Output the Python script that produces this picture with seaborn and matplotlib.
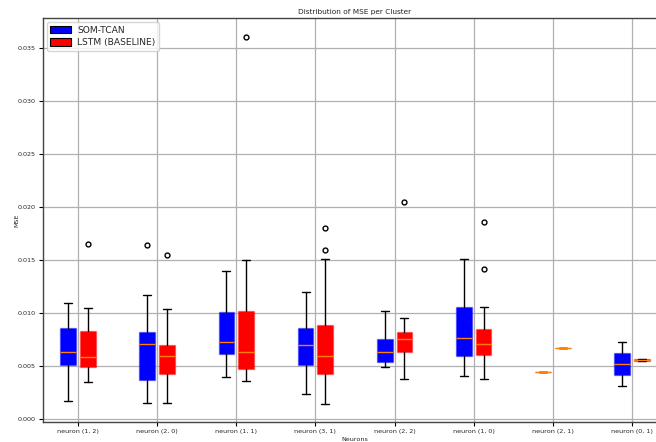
import matplotlib
matplotlib.use("Agg")
import matplotlib.pyplot as plt
import seaborn as sns
from matplotlib.patches import Patch

categories = ["neuron (1, 2)", "neuron (2, 0)", "neuron (1, 1)", "neuron (3, 1)",
              "neuron (2, 2)", "neuron (1, 0)", "neuron (2, 1)", "neuron (0, 1)"]

som_whislo = [0.00176, 0.00157, 0.00402, 0.00239, 0.00491, 0.00408, 0.00446, 0.00314]
som_q1 = [0.00515, 0.00371, 0.00619, 0.00509, 0.00538, 0.00597, 0.00446, 0.00415]
som_med = [0.00632, 0.00710, 0.00726, 0.00701, 0.00638, 0.00764, 0.00446, 0.00522]
som_q3 = [0.00858, 0.00824, 0.01010, 0.00864, 0.00755, 0.01062, 0.00446, 0.00629]
som_whishi = [0.01100, 0.01176, 0.01396, 0.01204, 0.01022, 0.01512, 0.00446, 0.00729]
som_fliers = [[], [0.01647], [], [], [], [], [], []]

lstm_whislo = [0.00355, 0.00154, 0.00364, 0.00147, 0.00380, 0.00380, 0.00675, 0.00550]
lstm_q1 = [0.00491, 0.00430, 0.00477, 0.00425, 0.00635, 0.00610, 0.00675, 0.00550]
lstm_med = [0.00585, 0.00597, 0.00635, 0.00597, 0.00755, 0.00708, 0.00675, 0.00559]
lstm_q3 = [0.00836, 0.00698, 0.01022, 0.00890, 0.00824, 0.00855, 0.00675, 0.00569]
lstm_whishi = [0.01050, 0.01038, 0.01500, 0.01512, 0.00956, 0.01057, 0.00675, 0.00569]
lstm_fliers = [[0.0165], [0.01547], [0.03607], [0.01802, 0.01597], [0.0205],
               [0.01858, 0.01421], [], []]

series_names = ["SOM-TCAN", "LSTM (BASELINE)"]
series_colors = ["blue", "red"]
edge_colors = [(0.0, 0.0, 1.0, 0.35), (1.0, 0.0, 0.0, 0.35)]

sns.set_style("ticks")
plt.rcParams['font.family'] = ['DejaVu Sans']

fig = plt.figure(figsize=(6.56, 4.42), dpi=100)
ax = fig.add_axes([43 / 656, 20 / 442, 624 / 656, 403.7 / 442])

def make_stats(lo, q1, med, q3, hi, fl):
    return [dict(whislo=a, q1=b, med=c, q3=d, whishi=e, fliers=f)
            for a, b, c, d, e, f in zip(lo, q1, med, q3, hi, fl)]

groups = [
    make_stats(som_whislo, som_q1, som_med, som_q3, som_whishi, som_fliers),
    make_stats(lstm_whislo, lstm_q1, lstm_med, lstm_q3, lstm_whishi, lstm_fliers),
]
offsets = [-0.125, 0.125]
base = list(range(1, len(categories) + 1))

for stats, off, fc, ec in zip(groups, offsets, series_colors, edge_colors):
    ax.bxp(stats, positions=[b + off for b in base], widths=0.2,
           patch_artist=True, manage_ticks=False,
           boxprops=dict(facecolor=fc, edgecolor=ec, linewidth=1.0),
           medianprops=dict(color="#ff7f0e", linewidth=1.0),
           whiskerprops=dict(color="black", linewidth=1.0),
           capprops=dict(color="black", linewidth=1.0),
           flierprops=dict(marker="o", markerfacecolor="none",
                           markeredgecolor="black", markersize=3.5,
                           markeredgewidth=1.0))

ax.set_xticks(base)
ax.set_xticklabels(categories, fontsize=4.6)
ax.set_yticks([0.0, 0.005, 0.010, 0.015, 0.020, 0.025, 0.030, 0.035])
ax.set_yticklabels(["0.000", "0.005", "0.010", "0.015", "0.020", "0.025",
                    "0.030", "0.035"], fontsize=4.6)
ax.set_xlim(0.557, 8.443)
ax.set_ylim(-0.000255, 0.03783)
ax.tick_params(axis="both", length=3, width=0.8, pad=2, color="black")
ax.grid(True, color="#b0b0b0", linewidth=0.9)
ax.set_axisbelow(True)
for s in ax.spines.values():
    s.set_color("#444444")
    s.set_linewidth(1.0)

ax.set_title("Distribution of MSE per Cluster", fontsize=5.3, pad=3)
ax.set_xlabel("Neurons", fontsize=4.6, labelpad=2)
ax.set_ylabel("MSE", fontsize=4.6, labelpad=-1)

handles = [Patch(facecolor=c, edgecolor="black", linewidth=0.8) for c in series_colors]
leg = ax.legend(handles, series_names, loc="upper left", fontsize=6.6,
                frameon=True, borderaxespad=0.4, handlelength=2.2,
                handleheight=0.9, labelspacing=0.4, borderpad=0.4,
                handletextpad=0.7)
leg.get_frame().set_edgecolor("#cccccc")

fig.savefig("out.png", dpi=100)
